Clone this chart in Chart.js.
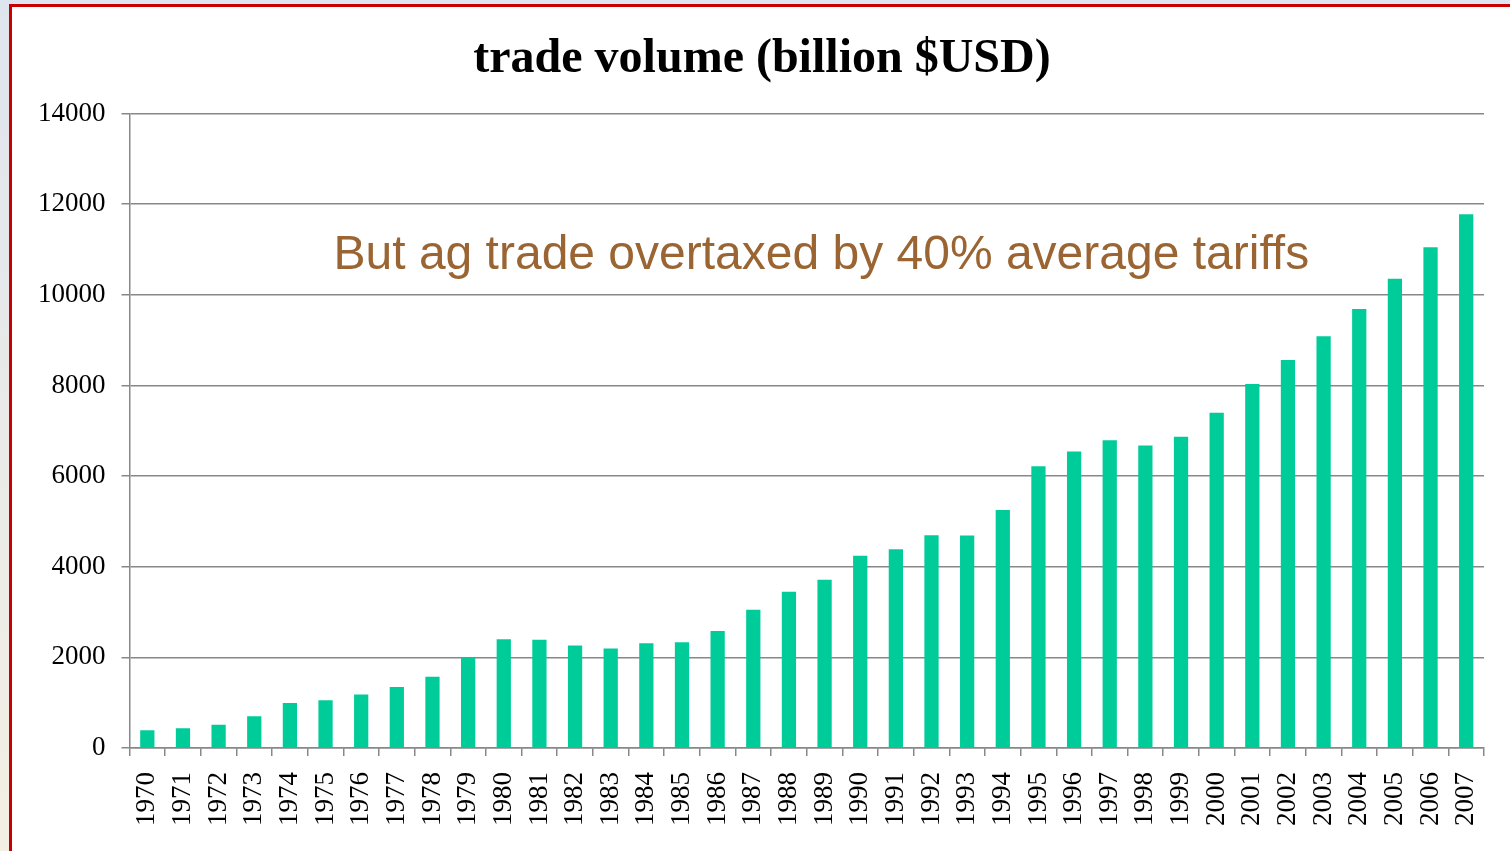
<!DOCTYPE html>
<html>
<head>
<meta charset="utf-8">
<script src="https://cdn.jsdelivr.net/npm/chart.js@4"></script>
<style>
html, body {
    margin: 0;
    padding: 0;
    width: 1510px;
    height: 851px;
    overflow: hidden;
    background: linear-gradient(#dfe5ee, #f3efe3);
}
#slide {
    position: absolute;
    left: 9px;
    top: 4px;
    width: 1520px;
    height: 870px;
    background: #fff;
    border-top: 3px solid #c80000;
    border-left: 3px solid #c80000;
}
#chartHolder {
    position: absolute;
    left: 0;
    top: 0;
}
</style>
</head>
<body>
<div id="slide"></div>
<canvas id="chartHolder" width="1510" height="851"></canvas>
<script>
const chartHolder = document.getElementById("chartHolder");

const years = ["1970", "1971", "1972", "1973", "1974", "1975", "1976", "1977", "1978", "1979",
    "1980", "1981", "1982", "1983", "1984", "1985", "1986", "1987", "1988", "1989",
    "1990", "1991", "1992", "1993", "1994", "1995", "1996", "1997", "1998", "1999",
    "2000", "2001", "2002", "2003", "2004", "2005", "2006", "2007"];

const tradeVolume = [390, 435, 515, 700, 995, 1055, 1180, 1345, 1570, 1985,
    2400, 2390, 2260, 2195, 2310, 2335, 2580, 3050, 3450, 3715,
    4245, 4385, 4695, 4690, 5250, 6215, 6545, 6790, 6675, 6870,
    7400, 8035, 8565, 9085, 9690, 10355, 11050, 11780];

const yTicks = [0, 2000, 4000, 6000, 8000, 10000, 12000, 14000];

const chartTitle = "trade volume (billion $USD)";
const noteText = "But ag trade overtaxed by 40% average tariffs";
const noteValue = 10570; // baseline of the note, in y units

const gridColor = "#888888";
const serif = '"Liberation Serif", "Times New Roman", serif';

// the brown note written inside the plot
const notePlugin = {
    id: "note",
    afterLayout(chart)
    {
        // title sits a bit right of the canvas centre in the original
        if (chart.titleBlock) chart.titleBlock.left += 18;
    },
    afterDatasetsDraw(chart)
    {
        const ctx = chart.ctx;
        const area = chart.chartArea;
        ctx.save();
        ctx.font = '48px "Liberation Sans", Arial, sans-serif';
        ctx.fillStyle = "#9a6532";
        ctx.textAlign = "left";
        ctx.textBaseline = "alphabetic";
        ctx.fillText(noteText, area.left + 204, chart.scales.y.getPixelForValue(noteValue));
        ctx.restore();
    }
};

new Chart(chartHolder, {
    type: 'bar',
    data: {
        labels: years,
        datasets: [{
            label: chartTitle,
            data: tradeVolume,
            backgroundColor: "#00cc99",
            borderWidth: 0,
            categoryPercentage: 1,
            barPercentage: 0.4
        }]
    },
    options: {
        responsive: false,
        animation: false,
        layout: {
            padding: {left: 22, right: 26, top: 8, bottom: 9}
        },
        plugins: {
            legend: {display: false},
            tooltip: {enabled: false},
            title: {
                display: true,
                text: chartTitle,
                color: "#000",
                font: {family: serif, size: 48, weight: 'bold'},
                padding: {top: 23, bottom: 25}
            }
        },
        scales: {
            x: {
                afterFit: axis => { axis.paddingRight = 0; },
                grid: {
                    display: true,
                    offset: true,
                    drawOnChartArea: false,
                    tickLength: 8,
                    color: gridColor,
                    lineWidth: 1.5
                },
                border: {color: gridColor, width: 1.5},
                ticks: {
                    autoSkip: false,
                    minRotation: 90,
                    maxRotation: 90,
                    padding: 16,
                    color: "#000",
                    font: {family: serif, size: 27}
                }
            },
            y: {
                min: 0,
                max: 14000,
                afterBuildTicks: axis => { axis.ticks = yTicks.map(v => ({value: v})); },
                grid: {
                    tickLength: 8,
                    color: gridColor,
                    lineWidth: 1.5
                },
                border: {color: gridColor, width: 1.5},
                ticks: {
                    padding: 16,
                    color: "#000",
                    font: {family: serif, size: 27},
                    callback: value => String(value)
                }
            }
        }
    },
    plugins: [notePlugin]
});
</script>
</body>
</html>
